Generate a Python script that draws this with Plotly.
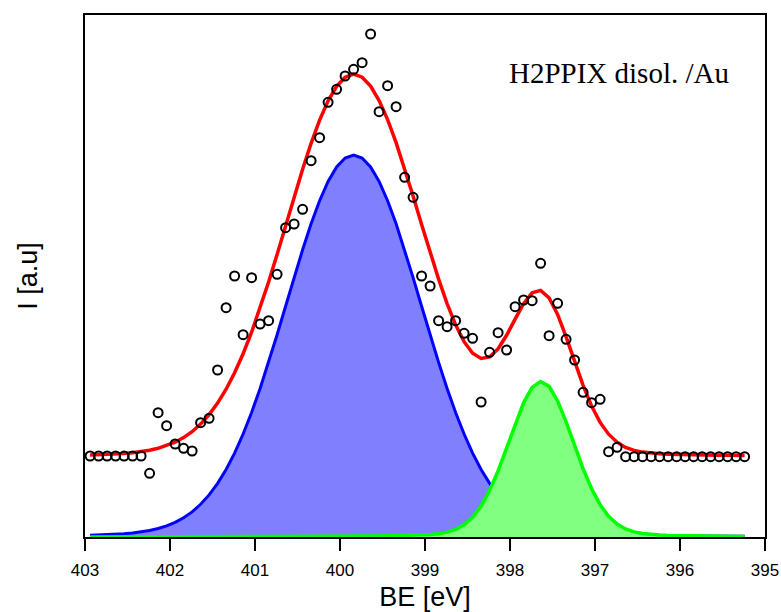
import numpy as np
import plotly.graph_objects as go

# Binding energy grid (eV), 0.1 eV step
binding_energy = [
    402.94, 402.84, 402.74, 402.64, 402.54, 402.44, 402.34, 402.24, 402.14, 402.04,
    401.94, 401.84, 401.74, 401.64, 401.54, 401.44, 401.34, 401.24, 401.14, 401.04,
    400.94, 400.84, 400.74, 400.64, 400.54, 400.44, 400.34, 400.24, 400.14, 400.04,
    399.94, 399.84, 399.74, 399.64, 399.54, 399.44, 399.34, 399.24, 399.14, 399.04,
    398.94, 398.84, 398.74, 398.64, 398.54, 398.44, 398.34, 398.24, 398.14, 398.04,
    397.94, 397.84, 397.74, 397.64, 397.54, 397.44, 397.34, 397.24, 397.14, 397.04,
    396.94, 396.84, 396.74, 396.64, 396.54, 396.44, 396.34, 396.24, 396.14, 396.04,
    395.94, 395.84, 395.74, 395.64, 395.54, 395.44, 395.34, 395.24,
]

# Measured N 1s intensity (a.u.)
intensity = [
    81.0, 81.0, 81.0, 81.0, 81.0, 81.0, 81.0, 63.7, 124.3, 111.3,
    93.0, 88.7, 86.0, 114.3, 118.7, 167.0, 229.3, 261.0, 202.3, 259.3,
    213.0, 216.3, 262.7, 309.3, 313.0, 327.7, 376.3, 399.3, 434.7, 447.7,
    461.0, 467.7, 474.3, 503.0, 425.3, 451.3, 430.3, 359.7, 339.7, 261.0,
    251.0, 216.3, 210.3, 216.3, 203.7, 198.7, 135.0, 184.7, 204.3, 187.0,
    230.3, 237.0, 236.3, 273.7, 201.3, 233.7, 197.7, 177.0, 144.7, 134.3,
    137.7, 85.3, 89.7, 80.3, 80.3, 80.3, 80.3, 80.3, 80.3, 80.3,
    80.3, 80.3, 80.3, 80.3, 80.3, 80.3, 80.3, 80.3,
]

# Fitted component at ~399.8 eV (background subtracted)
peak_main = [
    1.8, 2.0, 2.3, 2.7, 3.3, 4.0, 5.1, 6.5, 8.5, 11.1,
    14.6, 19.2, 25.1, 32.7, 42.1, 53.6, 67.5, 83.9, 103.0, 124.5,
    148.5, 174.6, 202.2, 230.7, 259.4, 287.2, 313.2, 336.3, 355.5, 370.0,
    379.0, 382.0, 379.0, 370.0, 355.5, 336.3, 313.2, 287.2, 259.4, 230.7,
    202.2, 174.6, 148.5, 124.5, 103.0, 83.9, 67.5, 53.6, 42.1, 32.7,
    25.1, 19.2, 14.6, 11.1, 8.5, 6.5, 5.1, 4.0, 3.3, 2.7,
    2.3, 2.0, 1.8, 1.6, 1.5, 1.4, 1.3, 1.2, 1.2, 1.1,
    1.1, 1.0, 1.0, 1.0, 0.9, 0.9, 0.8, 0.8,
]

# Fitted component at ~397.6 eV (background subtracted)
peak_minor = [
    0.1, 0.1, 0.2, 0.2, 0.2, 0.2, 0.2, 0.2, 0.2, 0.2,
    0.2, 0.2, 0.2, 0.2, 0.3, 0.3, 0.3, 0.3, 0.3, 0.3,
    0.3, 0.4, 0.4, 0.4, 0.4, 0.5, 0.5, 0.6, 0.6, 0.6,
    0.7, 0.8, 0.8, 0.9, 1.0, 1.1, 1.2, 1.4, 1.6, 1.9,
    2.4, 3.3, 4.9, 7.7, 12.3, 19.8, 31.0, 46.5, 66.1, 89.0,
    112.8, 134.2, 149.6, 155.5, 150.6, 136.1, 115.1, 91.4, 68.3, 48.2,
    32.3, 20.8, 13.0, 8.0, 5.1, 3.5, 2.5, 2.0, 1.6, 1.4,
    1.3, 1.1, 1.0, 0.9, 0.8, 0.8, 0.7, 0.6,
]

background = 80.0

x_ticks = [403, 402, 401, 400, 399, 398, 397, 396, 395]

envelope = background + np.array(peak_main) + np.array(peak_minor)

fig = go.Figure()

fig.add_trace(go.Scatter(
    x=binding_energy, y=peak_main, mode="lines", fill="tozeroy",
    fillcolor="#8080FF", line=dict(color="#0000FF", width=3),
))
fig.add_trace(go.Scatter(
    x=binding_energy, y=peak_minor, mode="lines", fill="tozeroy",
    fillcolor="#80FF80", line=dict(color="#00FF00", width=3.5),
))
fig.add_trace(go.Scatter(
    x=binding_energy, y=envelope, mode="lines",
    line=dict(color="#FF0000", width=3.5),
))
fig.add_trace(go.Scatter(
    x=binding_energy, y=intensity, mode="markers",
    marker=dict(symbol="circle-open", size=9, color="black",
                line=dict(color="black", width=2)),
))

fig.add_annotation(
    text="H2PPIX disol. /Au", xref="paper", yref="paper",
    x=0.6206, y=0.889, xanchor="left", yanchor="middle", showarrow=False,
    font=dict(family="Liberation Serif, Times New Roman, serif", size=29, color="black"),
)

fig.update_layout(
    width=781, height=612,
    margin=dict(l=85, r=16, t=15, b=75),
    paper_bgcolor="white", plot_bgcolor="white",
    showlegend=False,
    font=dict(family="Liberation Sans, Arial, sans-serif", color="black"),
)
fig.update_xaxes(
    range=[403, 395], tickvals=x_ticks, ticktext=[str(t) for t in x_ticks],
    ticks="outside", ticklen=12, tickwidth=2, tickcolor="black",
    showline=True, linecolor="black", linewidth=2, mirror=True,
    showgrid=False, zeroline=False,
    tickfont=dict(size=17, color="black"), ticklabelstandoff=5,
    title=dict(text="BE [eV]", font=dict(size=27, color="black"), standoff=9),
    automargin=False,
)
fig.update_yaxes(
    range=[0, 522], showticklabels=False, ticks="",
    showline=True, linecolor="black", linewidth=2, mirror=True,
    showgrid=False, zeroline=False,
    title=dict(text="I [a.u]", font=dict(size=27, color="black"), standoff=38),
    automargin=False,
)

fig.write_html("out.html")
